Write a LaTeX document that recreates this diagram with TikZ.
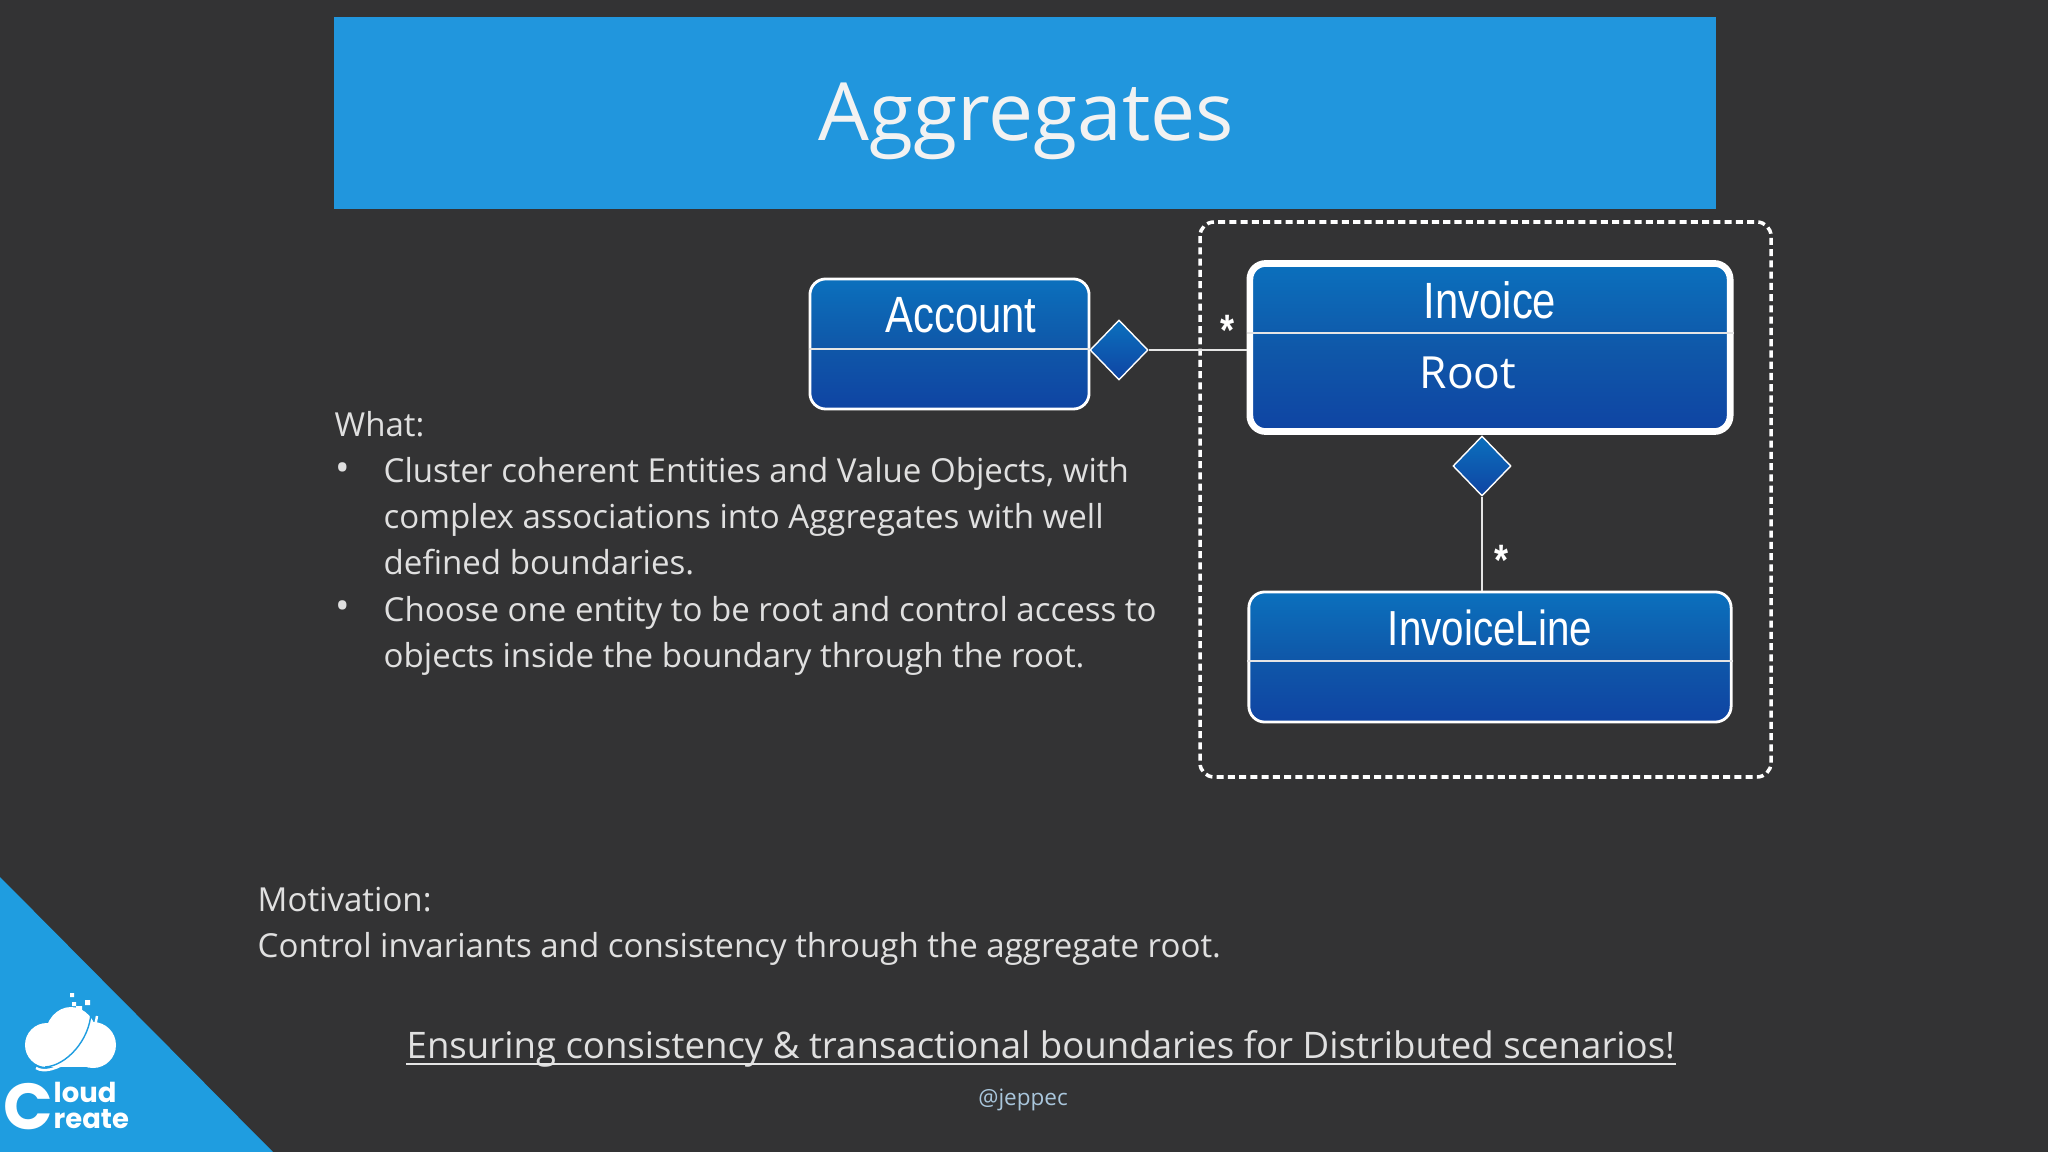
\documentclass[tikz,border=0pt]{standalone}
\usepackage{fontspec}
\setmainfont{Open Sans}
\newfontfamily\boxfont[FakeStretch=0.82]{Liberation Sans}
\newfontfamily\logofont{Poppins}
\usetikzlibrary{shapes.geometric}
\definecolor{SlideGrey}{HTML}{333334}
\definecolor{BannerBlue}{HTML}{2196DD}
\definecolor{CornerBlue}{HTML}{1F9DE0}
\definecolor{BoxTop}{HTML}{0B70BD}
\definecolor{BoxMid}{HTML}{0F58A9}
\definecolor{BoxEnd}{HTML}{0F44A3}
\definecolor{TagBlue}{HTML}{A9C6DC}
\tikzset{
  BoxStyle/.style = { rectangle, rounded corners=4.5pt, draw=white, line width=0.8pt,
                      top color=BoxTop, bottom color=BoxEnd, middle color=BoxMid },
  RootStyle/.style = { BoxStyle, line width=1.9pt },
  DiamondStyle/.style = { diamond, aspect=1, inner sep=0pt, minimum width=0.58cm, minimum height=0.6cm,
                          draw=white, line width=0.4pt, top color=BoxTop, bottom color=BoxEnd },
  LabelStyle/.style = { text=white, inner sep=0pt, font=\boxfont\fontsize{14.5}{16}\selectfont },
  StarStyle/.style = { text=white, inner sep=0pt, font=\boxfont\bfseries\fontsize{12.5}{13}\selectfont },
  SlideText/.style = { anchor=west, align=left, inner sep=0pt, text=white!88!black,
                       font=\fontsize{9.4}{13.09}\selectfont },
  EdgeStyle/.style = { draw=white!90!black, line width=0.5pt },
  LogoText/.style = { text=white, inner sep=0pt, anchor=west, text height=5.6pt, text depth=0pt,
                      font=\logofont\bfseries\fontsize{7.8}{8}\selectfont }
}
\begin{document}
\begin{tikzpicture}[x=0.01cm,y=-0.01cm]
  \fill[SlideGrey] (0,0) rectangle (2048,1152);
  \fill[BannerBlue] (334,17) rectangle (1716,209);
  \fill[CornerBlue] (0,877) -- (273,1152) -- (0,1152) -- cycle;
  \node[text=white!95!black, inner sep=0pt, font=\fontsize{22.85}{30}\selectfont](TITLE) at (1026,121){Aggregates};

  \draw[white, line width=1pt, dash pattern=on 2pt off 1.2pt, rounded corners=4pt]
    (1200,222) rectangle (1771,777);

  \node[BoxStyle, minimum width=2.79cm, minimum height=1.3cm](ACCOUNT) at (949.5,344){};
  \node[RootStyle, minimum width=4.8cm, minimum height=1.68cm](INVOICE) at (1490,347.5){};
  \node[BoxStyle, minimum width=4.82cm, minimum height=1.3cm](LINE) at (1490,657){};
  \node[DiamondStyle](HAS1) at (1119,350){};
  \node[DiamondStyle](HAS2) at (1482,466){};

  \coordinate (ACL) at (ACCOUNT.west |- 0,349);
  \coordinate (ACR) at (ACCOUNT.east |- 0,349);
  \coordinate (INL) at (INVOICE.west |- 0,333);
  \coordinate (INR) at (INVOICE.east |- 0,333);
  \coordinate (LNL) at (LINE.west |- 0,661);
  \coordinate (LNR) at (LINE.east |- 0,661);
  \coordinate (INJ) at (INVOICE.west |- HAS1);
  \coordinate (LNJ) at (HAS2 |- LINE.north);

  \draw[EdgeStyle, line width=0.7pt] (ACL) -- (ACR);
  \draw[EdgeStyle, line width=0.7pt] (INL) -- (INR);
  \draw[EdgeStyle, line width=0.7pt] (LNL) -- (LNR);
  \draw[EdgeStyle, line width=0.7pt] (HAS1) -- (INJ);
  \draw[EdgeStyle] (HAS2) -- (LNJ);

  \node[LabelStyle](ACCOUNTTXT) at (961,315){Account};
  \node[LabelStyle](INVOICETXT) at (1490,300){Invoice};
  \node[LabelStyle, font=\fontsize{12.6}{16}\selectfont](ROOTTXT) at (1468,373){Root};
  \node[LabelStyle, font=\boxfont\fontsize{14}{16}\selectfont](LINETXT) at (1490,628){InvoiceLine};
  \node[StarStyle](STAR1) at (1228,330){*};
  \node[StarStyle](STAR2) at (1501,560){*};

  \node[SlideText](WHAT) at (334,424){What:};
  \node[SlideText, font=\fontsize{11}{13}\selectfont](DOT1) at (335,472){•};
  \node[SlideText](ITEM1) at (383,516){Cluster coherent Entities and Value Objects, with\\
    complex associations into Aggregates with well\\ defined boundaries.};
  \node[SlideText, font=\fontsize{11}{13}\selectfont](DOT2) at (335,610){•};
  \node[SlideText](ITEM2) at (383,636){Choose one entity to be root and control access to\\
    objects inside the boundary through the root.};
  \node[SlideText](MOTIVE) at (257,926){Motivation:\\
    Control invariants and consistency through the aggregate root.};
  \node[SlideText, font=\fontsize{10.4}{13}\selectfont](CLAIM) at (406,1049)
    {Ensuring consistency \& transactional boundaries for Distributed scenarios!};
  \coordinate (CLL) at (CLAIM.west |- 0,1064);
  \coordinate (CLR) at (CLAIM.east |- 0,1064);
  \draw[EdgeStyle, line width=0.5pt] (CLL) -- (CLR);
  \node[inner sep=0pt, text=TagBlue, font=\fontsize{6.4}{8}\selectfont](TAG) at (1023,1100){@jeppec};

  \fill[white] (47,1045) circle (22);
  \fill[white] (93,1045) circle (23);
  \fill[white] (71,1037) ellipse (26 and 30);
  \fill[white] (47,1040) rectangle (95,1067);
  \draw[CornerBlue, line width=0.4pt] (45,1067) .. controls (66,1066) and (90,1040) .. (91,1012);
  \draw[white, line width=0.7pt] (36,1068) .. controls (52,1078) and (92,1052) .. (97,1016);
  \fill[white] (70,993) rectangle +(4,4) (72,1002) rectangle +(4,4) (85,1000) rectangle +(5,5) (76,1006) rectangle +(6,6);

  \node[text=white, inner sep=0pt, font=\logofont\bfseries\fontsize{18.5}{18}\selectfont](LOGOC) at (28,1107){C};
  \node[LogoText](LOGO1) at (53,1093){loud};
  \node[LogoText](LOGO2) at (53,1119){reate};
\end{tikzpicture}
\end{document}
